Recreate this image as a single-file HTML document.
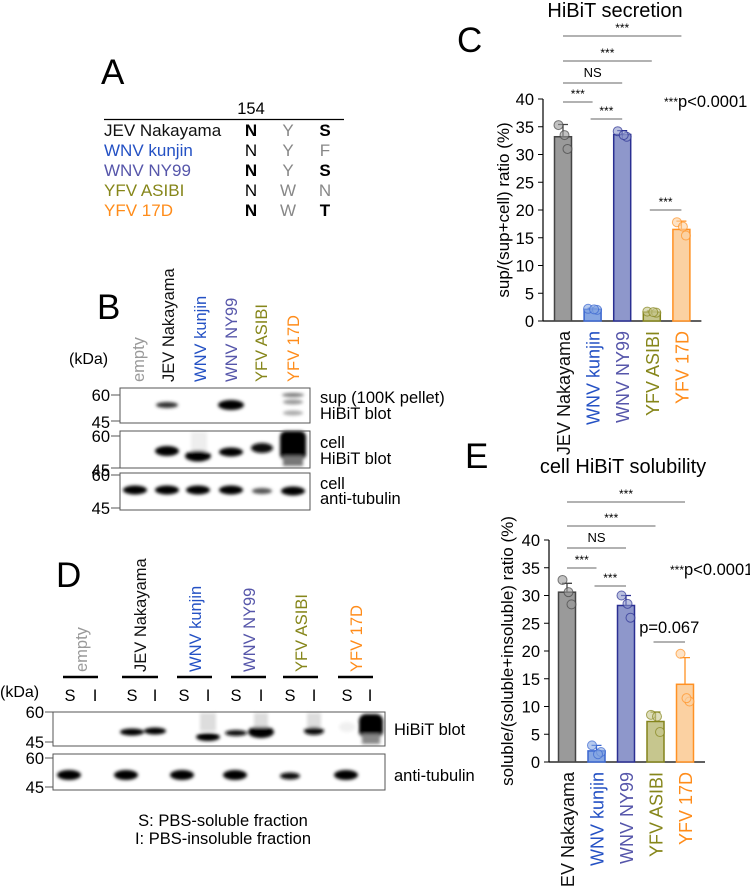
<!DOCTYPE html>
<html><head><meta charset="utf-8">
<style>
html,body{margin:0;padding:0;background:#fff;}
svg{display:block;font-family:"Liberation Sans",Arial,sans-serif;}
</style></head>
<body>
<svg id="fig" width="750" height="886" viewBox="0 0 750 886" xmlns="http://www.w3.org/2000/svg">
<defs>
<filter id="blur1" x="-50%" y="-100%" width="200%" height="300%"><feGaussianBlur stdDeviation="1.6"/></filter>
</defs>

<!-- Panel A -->
<g>
<text x="101" y="84" font-size="35">A</text>
<text x="251" y="114" font-size="16.5" text-anchor="middle">154</text>
<line x1="104" y1="119.5" x2="344" y2="119.5" stroke="#000" stroke-width="1.2"/>
<g font-size="17">
<text x="104" y="136" fill="#111">JEV Nakayama</text>
<text x="104" y="156" fill="#2451c4">WNV kunjin</text>
<text x="104" y="176" fill="#5656aa">WNV NY99</text>
<text x="104" y="196" fill="#86861a">YFV ASIBI</text>
<text x="104" y="216" fill="#ff8c1a">YFV 17D</text>
<g text-anchor="middle">
<text x="251" y="136" font-weight="bold">N</text><text x="288" y="136" fill="#888">Y</text><text x="325" y="136" font-weight="bold">S</text>
<text x="251" y="156">N</text><text x="288" y="156" fill="#888">Y</text><text x="325" y="156" fill="#888">F</text>
<text x="251" y="176" font-weight="bold">N</text><text x="288" y="176" fill="#888">Y</text><text x="325" y="176" font-weight="bold">S</text>
<text x="251" y="196">N</text><text x="288" y="196" fill="#888">W</text><text x="325" y="196" fill="#888">N</text>
<text x="251" y="216" font-weight="bold">N</text><text x="288" y="216" fill="#888">W</text><text x="325" y="216" font-weight="bold">T</text>
</g></g>
</g>

<!-- Panel B -->
<g>
<text x="97" y="319" font-size="35">B</text>
<text x="69" y="364" font-size="16">(kDa)</text>
<g font-size="16.5">
<text transform="translate(144,382) rotate(-90)" fill="#999">empty</text>
<text transform="translate(174,382) rotate(-90)" fill="#111">JEV Nakayama</text>
<text transform="translate(206,382) rotate(-90)" fill="#2451c4">WNV kunjin</text>
<text transform="translate(237,382) rotate(-90)" fill="#5656aa">WNV NY99</text>
<text transform="translate(267,382) rotate(-90)" fill="#86861a">YFV ASIBI</text>
<text transform="translate(299,382) rotate(-90)" fill="#ff8c1a">YFV 17D</text>
</g>
<g font-size="16.5" text-anchor="end">
<text x="110" y="401">60</text><text x="110" y="428">45</text>
<text x="110" y="442">60</text><text x="110" y="476">45</text>
<text x="110" y="481">60</text><text x="110" y="514">45</text>
</g>
<g stroke="#555" stroke-width="1">
<line x1="111" y1="395" x2="120" y2="395"/><line x1="111" y1="421" x2="120" y2="421"/>
<line x1="111" y1="436" x2="120" y2="436"/><line x1="111" y1="468" x2="120" y2="468"/>
<line x1="111" y1="475" x2="120" y2="475"/><line x1="111" y1="508" x2="120" y2="508"/>
</g>
<g>
<g filter="url(#blur1)">
<ellipse cx="167" cy="405" rx="11" ry="3" fill="#333"/>
<ellipse cx="231" cy="405" rx="13" ry="5" fill="#000"/>
<ellipse cx="293" cy="395" rx="11" ry="2" fill="#777"/>
<ellipse cx="293" cy="402" rx="10" ry="2.5" fill="#999"/>
<ellipse cx="293" cy="413" rx="10" ry="2.5" fill="#aaa"/>
</g>
<rect x="120" y="388" width="190" height="35" fill="none" stroke="#555" stroke-width="1"/>
</g>
<g>
<g filter="url(#blur1)">
<rect x="191" y="432" width="16" height="20" fill="#eee"/>
<ellipse cx="167" cy="451" rx="12" ry="5" fill="#000"/>
<ellipse cx="198" cy="456" rx="13" ry="5.5" fill="#000"/>
<ellipse cx="231" cy="452" rx="12" ry="4.5" fill="#000"/>
<ellipse cx="262" cy="448" rx="11" ry="5" fill="#111"/>
<rect x="280" y="431" width="26" height="29" rx="6" fill="#000"/>
<rect x="283" y="456" width="20" height="10" fill="#777"/>
</g>
<rect x="120" y="431" width="190" height="37" fill="none" stroke="#555" stroke-width="1"/>
</g>
<g>
<g filter="url(#blur1)">
<ellipse cx="135" cy="490" rx="12" ry="4.5" fill="#000"/>
<ellipse cx="167" cy="490" rx="12" ry="4.5" fill="#000"/>
<ellipse cx="198" cy="490" rx="12" ry="4.5" fill="#000"/>
<ellipse cx="231" cy="490" rx="12" ry="4.5" fill="#000"/>
<ellipse cx="262" cy="491" rx="10" ry="3" fill="#555"/>
<ellipse cx="293" cy="491" rx="12" ry="4.5" fill="#000"/>
</g>
<rect x="120" y="473" width="190" height="37" fill="none" stroke="#555" stroke-width="1"/>
</g>
<g font-size="16.5">
<text x="320" y="403">sup (100K pellet)</text><text x="320" y="419">HiBiT blot</text>
<text x="320" y="448">cell</text><text x="320" y="464">HiBiT blot</text>
<text x="320" y="489">cell</text><text x="320" y="504">anti-tubulin</text>
</g>
</g>

<!-- Panel D -->
<g>
<text x="56" y="587" font-size="35">D</text>
<g font-size="16.5">
<text transform="translate(87,672) rotate(-90)" fill="#999">empty</text>
<text transform="translate(146,672) rotate(-90)" fill="#111">JEV Nakayama</text>
<text transform="translate(201,672) rotate(-90)" fill="#2451c4">WNV kunjin</text>
<text transform="translate(255,672) rotate(-90)" fill="#5656aa">WNV NY99</text>
<text transform="translate(307,672) rotate(-90)" fill="#86861a">YFV ASIBI</text>
<text transform="translate(362,672) rotate(-90)" fill="#ff8c1a">YFV 17D</text>
</g>
<g stroke="#000" stroke-width="2.5">
<line x1="63" y1="677" x2="98" y2="677"/><line x1="122" y1="677" x2="158" y2="677"/>
<line x1="177" y1="677" x2="212" y2="677"/><line x1="231" y1="677" x2="266" y2="677"/>
<line x1="283" y1="677" x2="318" y2="677"/><line x1="338" y1="677" x2="373" y2="677"/>
</g>
<text x="0" y="697" font-size="16">(kDa)</text>
<g font-size="16.5" text-anchor="middle">
<text x="70" y="701">S</text><text x="95" y="701">I</text>
<text x="132" y="701">S</text><text x="155" y="701">I</text>
<text x="184" y="701">S</text><text x="208" y="701">I</text>
<text x="236" y="701">S</text><text x="261" y="701">I</text>
<text x="290" y="701">S</text><text x="314" y="701">I</text>
<text x="347" y="701">S</text><text x="370" y="701">I</text>
</g>
<g font-size="16.5" text-anchor="end">
<text x="44" y="718">60</text><text x="44" y="748">45</text>
<text x="44" y="764">60</text><text x="44" y="793">45</text>
</g>
<g stroke="#555" stroke-width="1">
<line x1="45" y1="712" x2="53" y2="712"/><line x1="45" y1="742" x2="53" y2="742"/>
<line x1="45" y1="758" x2="53" y2="758"/><line x1="45" y1="787" x2="53" y2="787"/>
</g>
<g>
<g filter="url(#blur1)">
<ellipse cx="132" cy="732" rx="12" ry="3.5" fill="#000"/>
<ellipse cx="155" cy="731" rx="11" ry="3.5" fill="#000"/>
<rect x="200" y="713" width="16" height="18" fill="#ddd"/>
<ellipse cx="208" cy="737" rx="12" ry="4" fill="#000"/>
<ellipse cx="236" cy="733" rx="11" ry="3" fill="#111"/>
<ellipse cx="261" cy="732" rx="13" ry="6" fill="#000"/>
<rect x="254" y="713" width="14" height="14" fill="#ddd"/>
<rect x="307" y="713" width="14" height="14" fill="#ddd"/>
<ellipse cx="314" cy="731" rx="10" ry="4" fill="#111"/>
<ellipse cx="347" cy="727" rx="8" ry="5" fill="#f0f0f0"/>
<rect x="359" y="714" width="24" height="24" rx="7" fill="#000"/>
<rect x="362" y="734" width="18" height="10" fill="#888"/>
</g>
<rect x="53" y="712" width="332" height="34" fill="none" stroke="#555" stroke-width="1"/>
</g>
<g>
<g filter="url(#blur1)">
<ellipse cx="69" cy="775" rx="12" ry="5" fill="#000"/>
<ellipse cx="126" cy="775" rx="12" ry="5" fill="#000"/>
<ellipse cx="182" cy="775" rx="12" ry="5" fill="#000"/>
<ellipse cx="235" cy="775" rx="12" ry="5" fill="#000"/>
<ellipse cx="290" cy="776" rx="10" ry="3.5" fill="#111"/>
<ellipse cx="346" cy="775" rx="12" ry="5" fill="#000"/>
</g>
<rect x="53" y="754" width="332" height="36" fill="none" stroke="#555" stroke-width="1"/>
</g>
<g font-size="16.5">
<text x="394" y="735">HiBiT blot</text>
<text x="394" y="781">anti-tubulin</text>
</g>
<g font-size="16.5" text-anchor="middle">
<text x="223" y="826">S: PBS-soluble fraction</text>
<text x="223" y="844">I: PBS-insoluble fraction</text>
</g>
</g>

<g id="chartC"></g>
<g id="chartE"></g>
</svg>

<script>
// Shared categories
var categories = ["JEV Nakayama","WNV kunjin","WNV NY99","YFV ASIBI","YFV 17D"];
var fillColors = ["#9a9a9a","#86a6e2","#8e97cb","#c6c68e","#fbd1a2"];
var edgeColors = ["#444444","#3a66d0","#2a2f92","#84841c","#ff9124"];
var labelColors = ["#111111","#2451c4","#5656aa","#86861a","#ff8c1a"];
var yTicks = [0,5,10,15,20,25,30,35,40];

// Panel C: HiBiT secretion
var secMeans = [33.2, 2.1, 33.6, 1.6, 16.5];
var secErr = [2.2, 0.2, 0.7, 0.2, 1.5];
var secPoints = [[35.3,31.0,33.5],[2.2,2.0,2.1],[34.2,33.2,33.5],[1.7,1.5,1.6],[17.8,15.4,17.0]];
var secSig = [[0,4,"***"],[0,3,"***"],[0,2,"NS"],[0,1,"***"],[1,2,"***"],[3,4,"***"]];

// Panel E: cell HiBiT solubility
var solMeans = [30.6, 2.0, 28.2, 7.3, 14.0];
var solErr = [1.6, 1.0, 1.8, 1.7, 4.8];
var solPoints = [[32.8,28.4,30.6],[3.0,1.8,1.4],[30.0,26.0,28.5],[8.5,5.4,8.2],[19.5,10.9,11.5]];
var solSig = [[0,4,"***"],[0,3,"***"],[0,2,"NS"],[0,1,"***"],[1,2,"***"],[3,4,"p=0.067"]];

var NS = "http://www.w3.org/2000/svg";
function mk(tag, attrs, parent){ var e=document.createElementNS(NS,tag); for(var k in attrs) e.setAttribute(k,attrs[k]); parent.appendChild(e); return e; }

function drawChart(g, cfg){
  var yScale = function(v){ return cfg.y0 - (v/40)*(cfg.y0-cfg.y40); };
  var xScale = function(i){ return cfg.xFirst + i*cfg.step; };
  var t;
  t = mk("text",{x:cfg.titleX,y:cfg.titleY,"font-size":20,"text-anchor":"middle"},g); t.textContent=cfg.title;
  
  
  t = mk("text",{x:cfg.letterX,y:cfg.letterY,"font-size":35},g); t.textContent=cfg.letter;
  
  
  var ax = mk("line",{x1:cfg.axX,y1:cfg.y40,x2:cfg.axX,y2:cfg.y0,stroke:"#000","stroke-width":1.2},g);
  
  
  var bx = mk("line",{x1:cfg.axX,y1:cfg.y0,x2:xScale(4)+20,y2:cfg.y0,stroke:"#000","stroke-width":1.2},g);
  
  
  yTicks.forEach(function(v){
    var y=yScale(v);
    mk("line",{x1:cfg.axX-5,y1:y,x2:cfg.axX,y2:y,stroke:"#000","stroke-width":1},g);
    var tt=mk("text",{x:cfg.axX-9,y:y+6,"font-size":16.5,"text-anchor":"end"},g); tt.textContent=v;
    
    
  });
  var yt=mk("text",{transform:"translate("+cfg.yTitleX+","+yScale(20)+") rotate(-90)","font-size":cfg.yTitleSize,"text-anchor":"middle"},g);
  yt.textContent=cfg.yTitle;
  
  
  var bw=17;
  var offs=[-3,3,1];
  for(var i=0;i<categories.length;i++){
    var x=xScale(i), ym=yScale(cfg.means[i]);
    var bar=mk("rect",{x:x-bw/2,y:ym,width:bw,height:cfg.y0-ym,fill:fillColors[i],stroke:edgeColors[i],"stroke-width":1.5},g);
    
    
    var ye=yScale(cfg.means[i]+cfg.err[i]);
    var eb=mk("path",{d:"M"+x+" "+ym+"V"+ye+"M"+(x-5)+" "+ye+"H"+(x+5),stroke:edgeColors[i],"stroke-width":1.3,fill:"none"},g);
    
    
    cfg.points[i].forEach(function(p,j){
      var c=mk("circle",{cx:x+offs[j]*1.5,cy:yScale(p),r:4.5,fill:fillColors[i],"fill-opacity":0.6,stroke:edgeColors[i],"stroke-opacity":0.7,"stroke-width":1},g);
      
      
    });
    var lab=mk("text",{transform:"translate("+(x+7)+","+(cfg.y0+10)+") rotate(-90)","font-size":18,"text-anchor":"end",fill:labelColors[i]},g);
    lab.textContent=categories[i];
    
    
  }
  cfg.sig.forEach(function(s,k){
    var y=cfg.sigY[k], x1=xScale(s[0])+(s[0]>0?-2:0), x2=xScale(s[1]);
    var l=mk("line",{x1:x1,y1:y,x2:x2,y2:y,stroke:"#666","stroke-width":1},g);
    
    
    var st=mk("text",{x:(x1+x2)/2,y:y-(s[2]=="***"?4:(s[2]=="NS"?6:9)),"font-size":s[2]=="***"?12:(s[2]=="NS"?13:16.5),"text-anchor":"middle"},g);
    st.textContent=s[2];
    
    
  });
  var pv=mk("text",{x:cfg.pX,y:cfg.pY,"font-size":16.5},g);
  pv.innerHTML='<tspan font-size="12" dy="-1">***</tspan><tspan dy="1">p&lt;0.0001</tspan>';
  
  
}

drawChart(document.getElementById("chartC"),{
  title:"HiBiT secretion", titleX:615, titleY:17, letter:"C", letterX:457, letterY:52,
  y0:321, y40:99, axX:543, xFirst:563, step:29.6,
  yTitle:"sup/(sup+cell) ratio (%)", yTitleX:509, yTitleSize:17,
  means:secMeans, err:secErr, points:secPoints, sig:secSig,
  sigY:[36,61,83,102,119,210], pX:664, pY:107
});
drawChart(document.getElementById("chartE"),{
  title:"cell HiBiT solubility", titleX:623, titleY:473, letter:"E", letterX:465, letterY:468,
  y0:762, y40:540, axX:549, xFirst:567, step:29.5,
  yTitle:"soluble/(soluble+insoluble) ratio (%)", yTitleX:513, yTitleSize:17,
  means:solMeans, err:solErr, points:solPoints, sig:solSig,
  sigY:[502,526,548,568,586,642], pX:670, pY:575
});
</script>
</body></html>
